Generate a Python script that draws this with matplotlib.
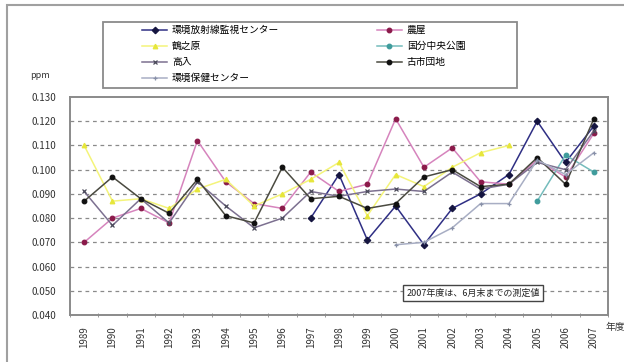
import matplotlib
matplotlib.use('Agg')
import matplotlib.pyplot as plt
from matplotlib.patches import Rectangle
import numpy as np

plt.rcParams['font.family'] = ['Noto Sans CJK JP', 'DejaVu Sans']

N = np.nan
years = list(range(1989, 2008))

# 年度別 最高値 (ppm)
kanshi_center = [N, N, N, N, N, N, N, N, 0.080, 0.098, 0.071, 0.085, 0.069, 0.084, 0.090, 0.098, 0.120, 0.103, 0.118]
noya = [0.070, 0.080, 0.084, 0.078, 0.112, 0.095, 0.086, 0.084, 0.099, 0.091, 0.094, 0.121, 0.101, 0.109, 0.095, 0.094, 0.104, 0.097, 0.115]
tsurunohara = [0.110, 0.087, 0.088, 0.084, 0.092, 0.096, 0.085, 0.090, 0.096, 0.103, 0.081, 0.098, 0.093, 0.101, 0.107, 0.110, N, N, N]
kokubu = [N, N, N, N, N, N, N, N, N, N, N, N, N, N, N, N, 0.087, 0.106, 0.099]
takairi = [0.091, 0.077, 0.088, 0.078, 0.095, 0.085, 0.076, 0.080, 0.091, 0.089, 0.091, 0.092, 0.091, 0.099, 0.092, 0.094, 0.103, 0.100, 0.116]
furuichi = [0.087, 0.097, 0.088, 0.082, 0.096, 0.081, 0.078, 0.101, 0.088, 0.089, 0.084, 0.086, 0.097, 0.100, 0.093, 0.094, 0.105, 0.094, 0.121]
hoken_center = [N, N, N, N, N, N, N, N, N, N, N, 0.069, 0.070, 0.076, 0.086, 0.086, 0.104, 0.098, 0.107]

series = [
    ('環境放射線監視センター', kanshi_center, '#2f2f84', '#151540', 'D'),
    ('農屋', noya, '#d684bd', '#8b1a4a', 'o'),
    ('鶴之原', tsurunohara, '#f4f47a', '#e6e63a', '^'),
    ('国分中央公園', kokubu, '#74bcbc', '#3f9c9c', 'o'),
    ('高入', takairi, '#7c7090', '#4a4a5a', 'x'),
    ('古市団地', furuichi, '#4a4a40', '#111111', 'o'),
    ('環境保健センター', hoken_center, '#a8aec4', '#8890a8', '+'),
]

W, H = 624, 362
fig = plt.figure(figsize=(W / 100, H / 100), dpi=100)
ax = fig.add_axes([70 / W, 1 - 315 / H, (608 - 70) / W, (315 - 97) / H])

x = np.arange(len(years))
handles = {}
for name, vals, lc, mc, mk in series:
    ln, = ax.plot(x, np.array(vals, dtype=float), color=lc, lw=1.1,
                  marker=mk, markersize=3.3, markerfacecolor=mc,
                  markeredgecolor=mc, markeredgewidth=0.9, label=name)
    handles[name] = ln

ax.set_ylim(0.040, 0.130)
ax.set_yticks(np.arange(0.040, 0.1301, 0.010))
ax.set_yticklabels([f'{v:.3f}' for v in np.arange(0.040, 0.1301, 0.010)])
ax.set_xlim(-0.5, len(years) - 0.5)
ax.set_xticks(x)
ax.set_xticklabels([str(y) for y in years], rotation=90)
ax.set_xticks(np.arange(-0.5, len(years), 1.0), minor=True)
ax.tick_params(axis='x', which='major', length=0, pad=8, labelsize=7, colors='#333333')
ax.tick_params(axis='x', which='minor', length=3, direction='inout', color='#888888')
ax.tick_params(axis='y', length=0, pad=10, labelsize=7, colors='#333333')

for v in np.arange(0.050, 0.1201, 0.010):
    ax.axhline(v, color='#8a8a8a', lw=0.9, ls=(0, (3, 3)), zorder=0)
for sp in ax.spines.values():
    sp.set_color('#8a8a8a')
    sp.set_linewidth(1.4)

fig.text(40 / W, 1 - 76 / H, 'ppm', fontsize=6.5, color='#333333', ha='center', va='center')
fig.text(606 / W, 1 - 327 / H, '年度', fontsize=7, color='#333333', ha='left', va='center')

ax.text(0.625, 0.10, '2007年度は、6月末までの測定値', transform=ax.transAxes,
        fontsize=6.5, color='#222222', va='center', ha='left',
        bbox=dict(boxstyle='square,pad=0.35', fc='white', ec='#444444', lw=1.0))

# 凡例 (2列, 行優先の並び)
order = ['環境放射線監視センター', '鶴之原', '高入', '環境保健センター',
         '農屋', '国分中央公園', '古市団地']
fig.legend([handles[n] for n in order], order, loc='upper left',
           bbox_to_anchor=(142 / W, 1 - 25 / H), ncol=2, frameon=False,
           fontsize=7, handlelength=2.6, handletextpad=0.5,
           columnspacing=10.0, labelspacing=0.62, borderaxespad=0, borderpad=0)
fig.add_artist(Rectangle((103 / W, 1 - 88 / H), 414 / W, 66 / H,
                         transform=fig.transFigure, fill=False,
                         ec='#8a8a8a', lw=1.3))
fig.add_artist(Rectangle((7 / W, -0.05), 1.1, 1 - 5 / H + 0.05,
                         transform=fig.transFigure, fill=False,
                         ec='#a0a0a0', lw=1.5))

fig.savefig('out.png', dpi=100)
